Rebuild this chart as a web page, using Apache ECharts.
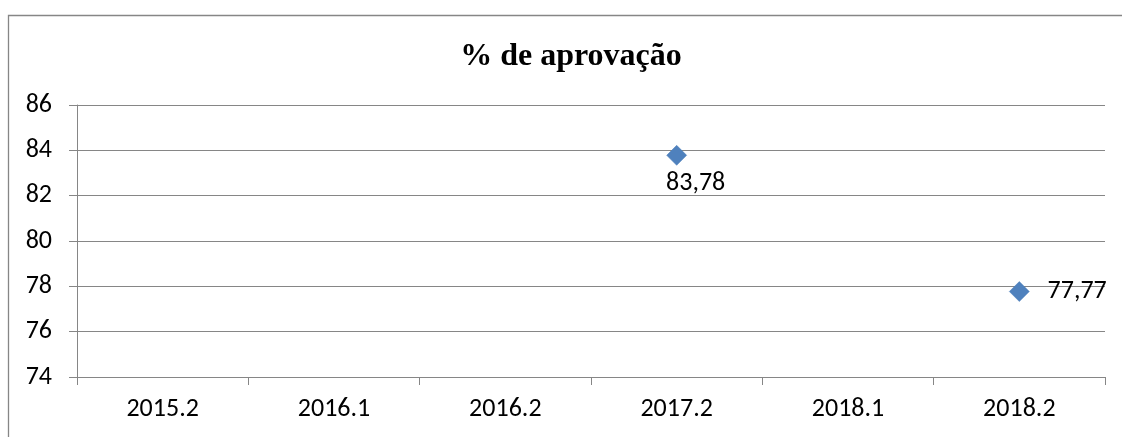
<!DOCTYPE html>
<html>
<head>
<meta charset="utf-8">
<title>% de aprovação</title>
<script src="https://cdn.jsdelivr.net/npm/echarts@6/dist/echarts.min.js"></script>
<style>
  html, body { margin: 0; padding: 0; background: #fff; }
  #chart { width: 1122px; height: 437px; }
</style>
</head>
<body>
<div id="chart"></div>
<script>
// dados do gráfico
var semestres = ['2015.2', '2016.1', '2016.2', '2017.2', '2018.1', '2018.2']
var aprovacao = [null, null, null, 83.78, null, 77.77]
var yTicks = [74, 76, 78, 80, 82, 84, 86]

var labelFont = 'Carlito, Lato, "Noto Sans", sans-serif'
var gray = '#868686'

var chart = echarts.init(document.getElementById('chart'))

// último ponto tem o rótulo à direita, os outros embaixo
var pontos = aprovacao.map(function(v, i) {
  if (v === null) return null
  if (i === aprovacao.length - 1) {
    return { value: v, label: { position: 'right', distance: 18 } }
  }
  return { value: v, label: { position: 'bottom', distance: 5, offset: [19, 0] } }
})

chart.setOption({
  animation: false,
  title: {
    text: '% de aprovação',
    left: 566,
    textAlign: 'center',
    top: 36,
    textStyle: {
      fontFamily: '"Liberation Serif", "Times New Roman", serif',
      fontWeight: 'bold',
      fontSize: 32,
      color: '#000'
    }
  },
  graphic: [{
    type: 'rect',
    shape: { x: 8.5, y: 15.5, width: 1300, height: 600 },
    style: { fill: 'none', stroke: gray, lineWidth: 1.3 }
  }],
  grid: { left: 77, right: 17, top: 105, bottom: 60, containLabel: false },
  xAxis: {
    type: 'category',
    data: semestres,
    boundaryGap: true,
    axisLine: { lineStyle: { color: gray, width: 1 } },
    axisTick: { show: true, length: 8, alignWithLabel: false, lineStyle: { color: gray } },
    axisLabel: { color: '#000', fontFamily: labelFont, fontSize: 26, margin: 19 }
  },
  yAxis: {
    type: 'value',
    min: yTicks[0],
    max: yTicks[yTicks.length - 1],
    interval: 2,
    axisLine: { show: true, lineStyle: { color: gray, width: 1 } },
    axisTick: { show: true, length: 8, lineStyle: { color: gray } },
    splitLine: { show: true, lineStyle: { color: gray, width: 1 } },
    axisLabel: { color: '#000', fontFamily: labelFont, fontSize: 26, margin: 25 }
  },
  series: [{
    name: '% de aprovação',
    type: 'scatter',
    symbol: 'diamond',
    symbolSize: 20,
    itemStyle: { color: '#4f81bd', borderColor: '#4a7ebb', borderWidth: 0.5, opacity: 1 },
    label: {
      show: true,
      color: '#000',
      fontFamily: labelFont,
      fontSize: 26,
      formatter: function(p) {
        return p.value.toFixed(2).replace('.', ',')
      }
    },
    data: pontos
  }]
})
</script>
</body>
</html>
